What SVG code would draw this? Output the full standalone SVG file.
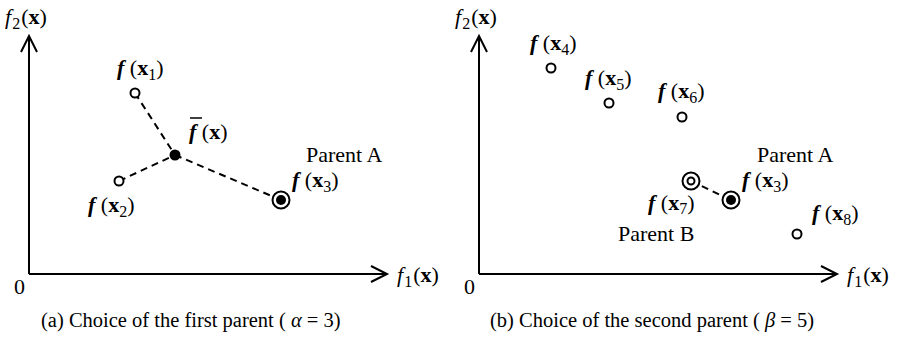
<svg xmlns="http://www.w3.org/2000/svg" width="898" height="345" viewBox="0 0 898 345">
<style>
text{font-family:"Liberation Serif","Times New Roman",serif;fill:#000}
.lb{font-size:22px}
.cap{font-size:20.5px}
.bi{font-weight:bold;font-style:italic}
.b{font-weight:bold}
.i{font-style:italic}
.sub{font-size:16px}
.axis{stroke:#000;stroke-width:2;fill:none}
.dash{stroke:#000;stroke-width:2;stroke-dasharray:7 5;fill:none}
.open{fill:#fff;stroke:#000;stroke-width:2}
.fill{fill:#000;stroke:none}
</style>
<g id="connectors">
<line class="dash" x1="135" y1="93" x2="175" y2="155"/>
<line class="dash" x1="119" y1="181" x2="175" y2="155"/>
<line class="dash" x1="175" y1="155" x2="281" y2="200"/>
<line class="dash" x1="691" y1="181" x2="731" y2="200" stroke-dasharray="0 14 7 100"/>
</g>
<g id="axes-a">
<polyline class="axis" points="29,274 29,36"/>
<polyline class="axis" points="21,52 29,36 37,52"/>
<polyline class="axis" points="29,274 387,274"/>
<polyline class="axis" points="371,266 387,274 371,282"/>
<text class="lb" x="5" y="24"><tspan class="i">f</tspan><tspan class="sub" dx="1" dy="5">2</tspan><tspan dx="1" dy="-5">(</tspan><tspan class="b">x</tspan>)</text>
<text class="lb" x="14" y="294">0</text>
<text class="lb" x="397" y="282"><tspan class="i">f</tspan><tspan class="sub" dx="1" dy="5">1</tspan><tspan dx="1" dy="-5">(</tspan><tspan class="b">x</tspan>)</text>
</g>
<g id="axes-b">
<polyline class="axis" points="479,274 479,36"/>
<polyline class="axis" points="471,52 479,36 487,52"/>
<polyline class="axis" points="479,274 837,274"/>
<polyline class="axis" points="821,266 837,274 821,282"/>
<text class="lb" x="455" y="24"><tspan class="i">f</tspan><tspan class="sub" dx="1" dy="5">2</tspan><tspan dx="1" dy="-5">(</tspan><tspan class="b">x</tspan>)</text>
<text class="lb" x="464" y="294">0</text>
<text class="lb" x="847" y="282"><tspan class="i">f</tspan><tspan class="sub" dx="1" dy="5">1</tspan><tspan dx="1" dy="-5">(</tspan><tspan class="b">x</tspan>)</text>
</g>
<g id="x1">
<circle class="open" cx="135" cy="93" r="4.5"/>
<text class="lb" x="117" y="75"><tspan class="bi">f</tspan> (<tspan class="b">x</tspan><tspan class="sub" dy="5">1</tspan><tspan dy="-5">)</tspan></text>
</g>
<g id="x2">
<circle class="open" cx="119" cy="181" r="4.5"/>
<text class="lb" x="88" y="212"><tspan class="bi">f</tspan> (<tspan class="b">x</tspan><tspan class="sub" dy="5">2</tspan><tspan dy="-5">)</tspan></text>
</g>
<g id="fbar">
<circle class="fill" cx="175" cy="155" r="5.5"/>
<line x1="190" y1="118" x2="202" y2="118" stroke="#000" stroke-width="1.5"/>
<text class="lb" x="189" y="139"><tspan class="bi">f</tspan> (<tspan class="b">x</tspan>)</text>
</g>
<g id="x3a">
<circle class="open" cx="281" cy="200" r="8.5"/>
<circle class="fill" cx="281" cy="200" r="5"/>
<text class="lb" x="306" y="162">Parent A</text>
<text class="lb" x="292" y="187"><tspan class="bi">f</tspan> (<tspan class="b">x</tspan><tspan class="sub" dy="5">3</tspan><tspan dy="-5">)</tspan></text>
</g>
<g id="x4">
<circle class="open" cx="551" cy="68" r="4.5"/>
<text class="lb" x="530" y="50"><tspan class="bi">f</tspan> (<tspan class="b">x</tspan><tspan class="sub" dy="5">4</tspan><tspan dy="-5">)</tspan></text>
</g>
<g id="x5">
<circle class="open" cx="609" cy="103" r="4.5"/>
<text class="lb" x="585" y="85"><tspan class="bi">f</tspan> (<tspan class="b">x</tspan><tspan class="sub" dy="5">5</tspan><tspan dy="-5">)</tspan></text>
</g>
<g id="x6">
<circle class="open" cx="682" cy="117" r="4.5"/>
<text class="lb" x="658" y="98"><tspan class="bi">f</tspan> (<tspan class="b">x</tspan><tspan class="sub" dy="5">6</tspan><tspan dy="-5">)</tspan></text>
</g>
<g id="x7">
<circle class="open" cx="691" cy="181" r="8.5"/>
<circle class="open" cx="691" cy="181" r="3.5"/>
<text class="lb" x="648" y="210"><tspan class="bi">f</tspan> (<tspan class="b">x</tspan><tspan class="sub" dy="4">7</tspan><tspan dy="-4">)</tspan></text>
<text class="lb" x="618" y="241">Parent B</text>
</g>
<g id="x3b">
<circle class="open" cx="731" cy="200" r="8.5"/>
<circle class="fill" cx="731" cy="200" r="5"/>
<text class="lb" x="757" y="162">Parent A</text>
<text class="lb" x="742" y="187"><tspan class="bi">f</tspan> (<tspan class="b">x</tspan><tspan class="sub" dy="5">3</tspan><tspan dy="-5">)</tspan></text>
</g>
<g id="x8">
<circle class="open" cx="797" cy="234" r="4.5"/>
<text class="lb" x="812" y="220"><tspan class="bi">f</tspan> (<tspan class="b">x</tspan><tspan class="sub" dy="5">8</tspan><tspan dy="-5">)</tspan></text>
</g>
<g id="captions">
<text class="cap" x="41" y="327">(a) Choice of the first parent ( <tspan class="i">α</tspan> = 3)</text>
<text class="cap" x="490" y="327">(b) Choice of the second parent ( <tspan class="i">β</tspan> = 5)</text>
</g>
</svg>
